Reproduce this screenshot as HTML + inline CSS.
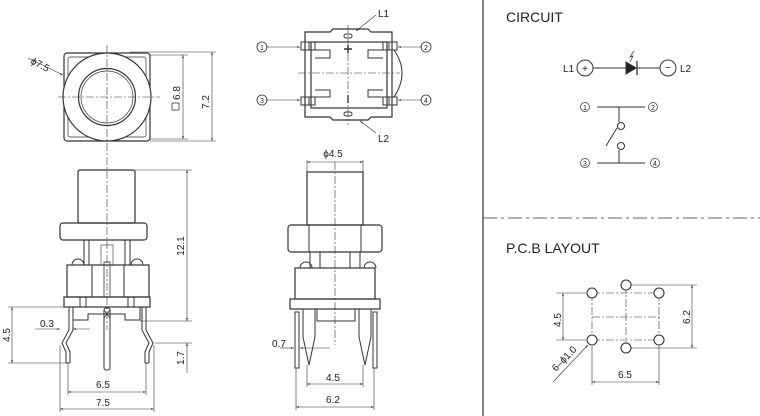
<!DOCTYPE html>
<html><head><meta charset="utf-8"><style>
html,body{margin:0;padding:0;background:#fff;}
svg{display:block;}
text{font-family:"Liberation Sans",sans-serif;fill:#222;}
</style></head><body>
<svg width="760" height="416" viewBox="0 0 760 416" xmlns="http://www.w3.org/2000/svg">
<defs>
<marker id="a" viewBox="0 0 10 10" refX="10" refY="5" markerWidth="7" markerHeight="5" orient="auto-start-reverse"><path d="M0,2 L10,5 L0,8 z" fill="#333"/></marker>
</defs>
<g stroke="#333" fill="none" stroke-width="1">
<rect x="64" y="53" width="86" height="88" rx="3" stroke-width="1.2"/>
<rect x="68" y="57" width="78" height="80" rx="2" stroke-width="0.7"/>
<circle cx="107" cy="97" r="44" fill="#fff" stroke-width="1.2"/>
<circle cx="107" cy="97" r="28.5" stroke-width="1.2"/>
<circle cx="107" cy="97" r="26" stroke-width="0.7"/>
<g stroke-width="0.6" stroke-dasharray="8,2,2,2"><line x1="58" y1="97" x2="160" y2="97"/><line x1="107" y1="45" x2="107" y2="330"/></g>
<line x1="28" y1="58" x2="63" y2="75" stroke-width="0.6" marker-end="url(#a)"/>
<g stroke-width="0.6"><line x1="130" y1="52" x2="216" y2="52"/><line x1="150" y1="141" x2="216" y2="141"/>
<line x1="150" y1="55" x2="188" y2="55"/><line x1="150" y1="139" x2="188" y2="139"/>
<line x1="183" y1="55" x2="183" y2="139" marker-start="url(#a)" marker-end="url(#a)"/>
<line x1="212" y1="52" x2="212" y2="141" marker-start="url(#a)" marker-end="url(#a)"/></g>
<rect x="172" y="103" width="7" height="7" stroke-width="0.8"/>

<rect x="78" y="170" width="57" height="53" rx="2" stroke-width="1.2"/>
<rect x="60" y="223" width="87" height="17" rx="3" stroke-width="1.2"/>
<line x1="84" y1="240" x2="84" y2="265"/><line x1="89" y1="240" x2="89" y2="265"/>
<line x1="125" y1="240" x2="125" y2="265"/><line x1="130" y1="240" x2="130" y2="265"/>
<rect x="101" y="245" width="12" height="20" stroke-width="0.6"/>
<path d="M72,265 a6,6 0 0 1 12,0 M131,265 a6,6 0 0 1 12,0"/>
<rect x="67" y="265" width="82" height="32" stroke-width="1.2"/>
<line x1="92" y1="265" x2="92" y2="297"/><line x1="124" y1="265" x2="124" y2="297"/>
<rect x="104" y="262" width="6" height="35" stroke-width="0.8"/>
<rect x="64" y="297" width="86" height="10" stroke-width="1.2"/>
<line x1="80" y1="297" x2="80" y2="307"/><line x1="86" y1="297" x2="86" y2="307"/>
<line x1="128" y1="297" x2="128" y2="307"/><line x1="134" y1="297" x2="134" y2="307"/>
<path d="M73,307 V320 H88 V314 H125 V320 H140 V307"/>
<path d="M69,307 V330 L62,343 L66,352 V363 M73,307 V330 L66,343 L70,352 V363 M66,363 H70"/>
<path d="M142,307 V330 L149,343 L145,352 V363 M146,307 V330 L153,343 L149,352 V363 M145,363 H149"/>
<rect x="104" y="308" width="6" height="62" rx="2"/>
<path d="M104,310 L110,318 M110,310 L104,318" stroke-width="0.7"/>
<g stroke-width="0.6">
<line x1="135" y1="170" x2="192" y2="170"/><line x1="140" y1="321" x2="192" y2="321"/>
<line x1="187" y1="170" x2="187" y2="321" marker-start="url(#a)" marker-end="url(#a)"/>
<line x1="8" y1="307" x2="64" y2="307"/><line x1="8" y1="363" x2="66" y2="363"/>
<line x1="12" y1="307" x2="12" y2="363" marker-start="url(#a)" marker-end="url(#a)"/>
<line x1="35" y1="329" x2="60" y2="329" marker-end="url(#a)"/><line x1="90" y1="329" x2="73" y2="329" marker-end="url(#a)"/>
<line x1="155" y1="343" x2="192" y2="343"/><line x1="187" y1="343" x2="187" y2="373" marker-start="url(#a)"/>
<line x1="68" y1="363" x2="68" y2="395"/><line x1="146" y1="363" x2="146" y2="395"/>
<line x1="68" y1="392" x2="146" y2="392" marker-start="url(#a)" marker-end="url(#a)"/>
<line x1="60" y1="345" x2="60" y2="412"/><line x1="154" y1="345" x2="154" y2="412"/>
<line x1="60" y1="409" x2="154" y2="409" marker-start="url(#a)" marker-end="url(#a)"/>
</g>

<path d="M305,32 H330 L333,29 H368 L371,32 H392 V117 H371 L368,120 H333 L330,117 H305 Z" stroke-width="1.2"/>
<rect x="311" y="42" width="76" height="66" stroke-width="1.2"/>
<rect x="301" y="42" width="14" height="8"/><rect x="383" y="42" width="14" height="8"/>
<rect x="301" y="97" width="14" height="8"/><rect x="383" y="97" width="14" height="8"/>
<line x1="309" y1="42" x2="309" y2="50"/><line x1="389" y1="42" x2="389" y2="50"/>
<line x1="309" y1="97" x2="309" y2="105"/><line x1="389" y1="97" x2="389" y2="105"/>
<path d="M315,50 H330 V58 H315 M383,50 H368 V58 H383 M315,97 H330 V90 H315 M383,97 H368 V90 H383"/>
<path d="M394,50 Q410,73 394,97"/>
<rect x="344" y="34" width="8" height="4" rx="2"/><rect x="344" y="112" width="8" height="4" rx="2"/>
<path d="M348,45 V53 M344,49 H352 M348,95 V103" stroke-width="1.4"/>
<g stroke-width="0.6" stroke-dasharray="8,2,2,2"><line x1="298" y1="73" x2="400" y2="73"/><line x1="348" y1="25" x2="348" y2="125"/><line x1="335" y1="162" x2="335" y2="345"/></g>
<g stroke-width="0.6">
<line x1="266" y1="47" x2="300" y2="47" marker-end="url(#a)"/><line x1="422" y1="47" x2="398" y2="47" marker-end="url(#a)"/>
<line x1="266" y1="100" x2="300" y2="100" marker-end="url(#a)"/><line x1="422" y1="100" x2="398" y2="100" marker-end="url(#a)"/>
<line x1="376" y1="15" x2="356" y2="31" marker-end="url(#a)"/><line x1="376" y1="133" x2="360" y2="121" marker-end="url(#a)"/>
<line x1="307" y1="160" x2="307" y2="172"/><line x1="363" y1="160" x2="363" y2="172"/>
<line x1="307" y1="162" x2="363" y2="162" marker-start="url(#a)" marker-end="url(#a)"/>
</g>
<circle cx="262" cy="47" r="5" stroke-width="0.8"/><circle cx="426" cy="47" r="5" stroke-width="0.8"/>
<circle cx="262" cy="100" r="5" stroke-width="0.8"/><circle cx="426" cy="100" r="5" stroke-width="0.8"/>

<rect x="307" y="172" width="56" height="53" stroke-width="1.2"/>
<rect x="288" y="225" width="94" height="27" rx="3" stroke-width="1.2"/>
<line x1="309" y1="225" x2="309" y2="252"/><line x1="361" y1="225" x2="361" y2="252"/>
<path d="M310,252 V268 M320,252 V268 M350,252 V268 M360,252 V268"/>
<path d="M300,268 a6,6 0 0 1 12,0 M364,268 a6,6 0 0 1 12,0"/>
<rect x="295" y="268" width="80" height="31" stroke-width="1.2"/>
<rect x="290" y="299" width="90" height="10" stroke-width="1.2"/>
<path d="M317,309 V321 H355 V309" />
<path d="M303,309 V337 L309,365 L315,337 V309 Z"/>
<path d="M359,309 V337 L365,365 L371,337 V309 Z"/>
<rect x="295" y="312" width="4" height="56"/><rect x="373" y="312" width="4" height="56"/>
<g stroke-width="0.6">
<line x1="280" y1="348" x2="294" y2="348" marker-end="url(#a)"/><line x1="330" y1="348" x2="300" y2="348" marker-end="url(#a)"/>
<line x1="307" y1="365" x2="307" y2="387"/><line x1="363" y1="365" x2="363" y2="387"/>
<line x1="307" y1="384" x2="363" y2="384" marker-start="url(#a)" marker-end="url(#a)"/>
<line x1="296" y1="368" x2="296" y2="410"/><line x1="374" y1="368" x2="374" y2="410"/>
<line x1="296" y1="407" x2="374" y2="407" marker-start="url(#a)" marker-end="url(#a)"/>
</g>

<line x1="483" y1="0" x2="483" y2="416" stroke-width="1.2"/>
<line x1="483" y1="218" x2="760" y2="218" stroke-width="0.7" stroke-dasharray="14,4,3,4"/>
<circle cx="585" cy="68" r="8"/><circle cx="668" cy="68" r="8"/>
<line x1="593" y1="68" x2="660" y2="68"/>
<path d="M626,62 L636,68 L626,74 Z" fill="#222"/><line x1="637" y1="61" x2="637" y2="75" stroke-width="1.3"/>
<path d="M634,51 L630,57 L633,56 L630,62" stroke-width="0.7"/>
<line x1="597" y1="107" x2="645" y2="107"/><line x1="619" y1="107" x2="619" y2="122"/>
<circle cx="621" cy="126" r="3.5"/><line x1="606" y1="146" x2="617" y2="128"/>
<circle cx="621" cy="146" r="3.5"/><line x1="619" y1="150" x2="619" y2="163"/>
<line x1="597" y1="163" x2="645" y2="163"/>
<circle cx="585" cy="107" r="4.5" stroke-width="0.7"/><circle cx="653" cy="107" r="4.5" stroke-width="0.7"/>
<circle cx="585" cy="163" r="4.5" stroke-width="0.7"/><circle cx="655" cy="163" r="4.5" stroke-width="0.7"/>
<g stroke-width="0.6" stroke-dasharray="8,2,2,2"><line x1="592" y1="293" x2="659" y2="293"/><line x1="592" y1="340" x2="659" y2="340"/><line x1="592" y1="317" x2="661" y2="317"/><line x1="592" y1="293" x2="592" y2="340"/><line x1="659" y1="293" x2="659" y2="340"/><line x1="626" y1="285" x2="626" y2="348"/></g>
<g fill="#fff" stroke-width="1.1">
<circle cx="592" cy="293" r="5"/><circle cx="626" cy="285" r="5"/><circle cx="659" cy="293" r="5"/>
<circle cx="592" cy="340" r="5"/><circle cx="626" cy="348" r="5"/><circle cx="659" cy="340" r="5"/></g>
<g stroke-width="0.6">
<line x1="556" y1="293" x2="586" y2="293"/><line x1="556" y1="340" x2="586" y2="340"/>
<line x1="563" y1="293" x2="563" y2="340" marker-start="url(#a)" marker-end="url(#a)"/>
<line x1="631" y1="285" x2="697" y2="285"/><line x1="631" y1="348" x2="697" y2="348"/>
<line x1="692" y1="285" x2="692" y2="348" marker-start="url(#a)" marker-end="url(#a)"/>
<line x1="592" y1="346" x2="592" y2="385"/><line x1="659" y1="346" x2="659" y2="385"/>
<line x1="592" y1="382" x2="659" y2="382" marker-start="url(#a)" marker-end="url(#a)"/>
<line x1="553" y1="382" x2="588" y2="345" marker-end="url(#a)"/>
</g>
</g>
<g font-size="10">
<text x="30" y="63" transform="rotate(28 30 63)">ϕ7.5</text>
<text x="180" y="100" transform="rotate(-90 180 100)">6.8</text>
<text x="209" y="102" transform="rotate(-90 209 102)" text-anchor="middle">7.2</text>
<text x="184" y="246" transform="rotate(-90 184 246)" text-anchor="middle">12.1</text>
<text x="10" y="335" transform="rotate(-90 10 335)" text-anchor="middle">4.5</text>
<text x="47" y="327" text-anchor="middle">0.3</text>
<text x="184" y="358" transform="rotate(-90 184 358)" text-anchor="middle">1.7</text>
<text x="103" y="388" text-anchor="middle">6.5</text>
<text x="103" y="406" text-anchor="middle">7.5</text>
<text x="378" y="17">L1</text><text x="378" y="142">L2</text>
<text x="333" y="157" text-anchor="middle">ϕ4.5</text>
<text x="279" y="347" text-anchor="middle">0.7</text>
<text x="333" y="381" text-anchor="middle">4.5</text>
<text x="333" y="403" text-anchor="middle">6.2</text>
<text x="563" y="72">L1</text><text x="680" y="72">L2</text>
<text x="561" y="320" transform="rotate(-90 561 320)" text-anchor="middle">4.5</text>
<text x="690" y="317" transform="rotate(-90 690 317)" text-anchor="middle">6.2</text>
<text x="625" y="378" text-anchor="middle">6.5</text>
<text x="556" y="372" transform="rotate(-46 556 372)">6–ϕ1.0</text>
</g>
<g font-size="7" text-anchor="middle">
<text x="262" y="50">1</text><text x="426" y="50">2</text><text x="262" y="103">3</text><text x="426" y="103">4</text>
<text x="585" y="110">1</text><text x="653" y="110">2</text><text x="585" y="166">3</text><text x="655" y="166">4</text>
</g>
<g font-size="10" text-anchor="middle"><text x="585" y="72">+</text><text x="668" y="71">−</text></g>
<text x="506" y="22" font-size="14">CIRCUIT</text>
<text x="506" y="253" font-size="14">P.C.B LAYOUT</text>
</svg>
</body></html>
